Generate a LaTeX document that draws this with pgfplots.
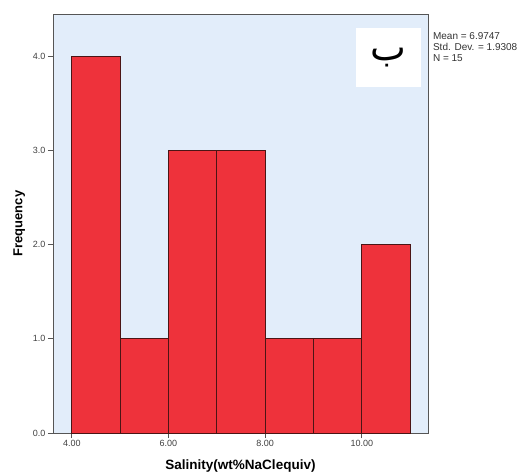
\documentclass[border=0pt]{standalone}
\usepackage{pgfplots}
\pgfplotsset{compat=1.18}
\usepackage{fontspec}
\setmainfont{Liberation Sans}
\newfontfamily\arabicfont[Script=Arabic]{DejaVu Sans}
\TeXXeTstate=1
\definecolor{bgblue}{HTML}{E2EDFA}
\definecolor{barred}{HTML}{EE323B}
\definecolor{baredge}{HTML}{4A1515}
\definecolor{frame}{HTML}{555555}

\begin{document}
\begin{tikzpicture}
\begin{axis}[scale only axis, width=375pt, height=419pt, clip=false,
             xmin=3.61, xmax=11.37, ymin=0, ymax=4.45,
             axis background/.style={fill=bgblue},
             axis line style={frame, line width=0.9pt},
             xtick={4,6,8,10}, xticklabels={4.00,6.00,8.00,10.00},
             ytick={0,1,2,3,4}, yticklabels={0.0,1.0,2.0,3.0,4.0},
             tick align=outside, tick pos=left, major tick length=5pt,
             tick style={frame, line width=0.8pt},
             ticklabel style={font=\fontsize{9}{10}\selectfont, text=black!75},
             xticklabel style={yshift=1pt}, yticklabel style={xshift=1pt},
             xlabel={\textbf{Salinity(wt\%NaClequiv)}},
             xlabel style={font=\fontsize{13.5}{14}\selectfont, yshift=-6pt},
             ylabel={\textbf{Frequency}},
             ylabel style={font=\fontsize{13}{14}\selectfont, yshift=1pt}]
\addplot[ybar interval, fill=barred, draw=baredge, line width=0.8pt]
  coordinates {(4,4) (5,1) (6,3) (7,3) (8,1) (9,1) (10,2) (11,2)};
% the box with the letter and the statistics beside the frame
\node[fill=white, minimum width=65pt, minimum height=59pt, inner sep=0pt,
      anchor=north east, font=\arabicfont\fontsize{38}{40}\selectfont]
  at (rel axis cs:0.981,0.9666) {\beginR ب\endR};
\node[anchor=north west, align=left, inner sep=0pt,
      font=\fontsize{10}{11}\selectfont, text=black!80]
  at (rel axis cs:1.013,0.957) {Mean = 6.9747\\Std. Dev. = 1.9308\\N = 15};
\path (rel axis cs:-0.1413,-0.0955) rectangle (rel axis cs:1.24,1.0334);
\end{axis}
\end{tikzpicture}
\end{document}
